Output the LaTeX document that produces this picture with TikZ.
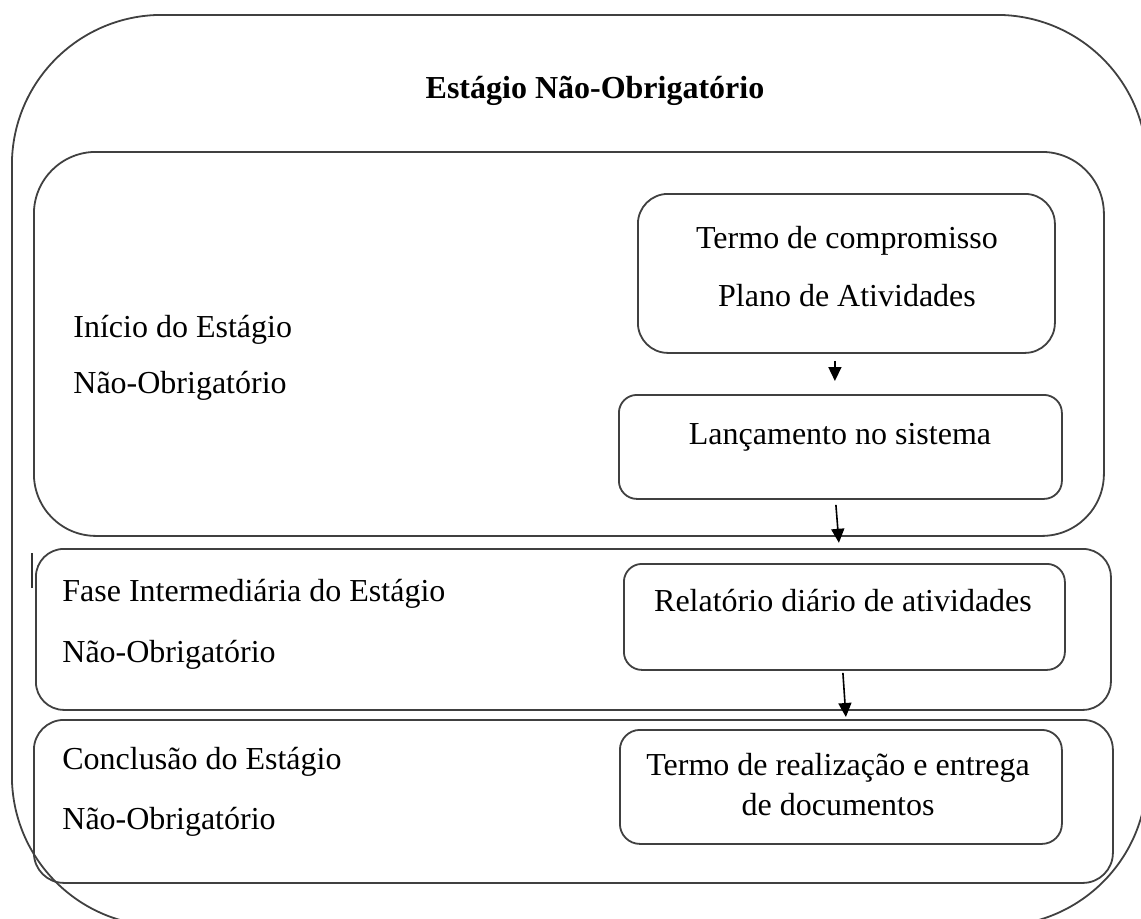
\documentclass[tikz,border=0pt]{standalone}
\usepackage{fontspec}
\setmainfont{Liberation Serif}
\usetikzlibrary{arrows.meta,calc}
\tikzset{
  frame/.style={draw=black!75, line width=0.9pt, inner sep=0pt, anchor=north west},
  lbl/.style={inner sep=0pt, anchor=base west, font=\fontsize{16}{19}\selectfont},
  ctr/.style={inner sep=0pt, anchor=base, font=\fontsize{16}{19}\selectfont},
  arr/.style={draw=black, line width=0.8pt, -{Triangle[width=6.5pt,length=7pt]}}
}
\begin{document}
\begin{tikzpicture}[x=0.5pt,y=-0.5pt]
\useasboundingbox (0,0) rectangle (1141,918);
\clip (0,0) rectangle (1141,918);
% containers
\node[frame, rounded corners=75pt, minimum width=567.5pt, minimum height=455.5pt] (outer) at (11,14) {};
\node[frame, rounded corners=31pt, minimum width=535pt, minimum height=192pt] (box1) at (33,151) {};
\node[frame, rounded corners=14pt, minimum width=537.5pt, minimum height=80.5pt] (box2) at (35,548) {};
\node[frame, rounded corners=15pt, minimum width=539.5pt, minimum height=81.5pt] (box3) at (33,719) {};
% inner boxes
\node[frame, rounded corners=15pt, minimum width=208.5pt, minimum height=79.5pt] (B1) at (637,193) {};
\node[frame, rounded corners=9pt, minimum width=221.5pt, minimum height=52pt] (B2) at (618,394) {};
\node[frame, rounded corners=9pt, minimum width=220.5pt, minimum height=53pt] (B3) at (623,563) {};
\node[frame, rounded corners=10pt, minimum width=221pt, minimum height=57pt] (B4) at (619,729) {};
% small stray mark
\draw[black!80, line width=1.1pt] (32,553) -- (32,588);
% texts
\node[ctr, font=\fontsize{16}{19}\selectfont\bfseries] (title) at (595,98) {Estágio Não-Obrigatório};
\node[lbl] (t1a) at (73,337) {Início do Estágio};
\node[lbl] (t1b) at (73,393) {Não-Obrigatório};
\node[lbl] (t2a) at (62,601) {Fase Intermediária do Estágio};
\node[lbl] (t2b) at (62,662) {Não-Obrigatório};
\node[lbl] (t3a) at (62,769) {Conclusão do Estágio};
\node[lbl] (t3b) at (62,829) {Não-Obrigatório};
\node[ctr] (b1a) at (847,248) {Termo de compromisso};
\node[ctr] (b1b) at (847,306) {Plano de Atividades};
\node[ctr] (b2t) at (840,444) {Lançamento no sistema};
\node[ctr] (b3t) at (843,611) {Relatório diário de atividades};
\node[ctr] (b4a) at (838,775) {Termo de realização e entrega};
\node[ctr] (b4b) at (838,815) {de documentos};
% arrows
\draw[arr] ($(B1.south)+(-11.5,7)$) -- ($(B2.north)+(-5.5,-13)$);
\draw[arr] ($(B2.south)+(-4.5,5)$) -- ($(B2.south |- box1.south)+(-1.5,6)$);
\draw[arr] ($(B3.south)+(-1.5,2)$) -- ($(B4.north)+(5,-12)$);
\end{tikzpicture}
\end{document}
